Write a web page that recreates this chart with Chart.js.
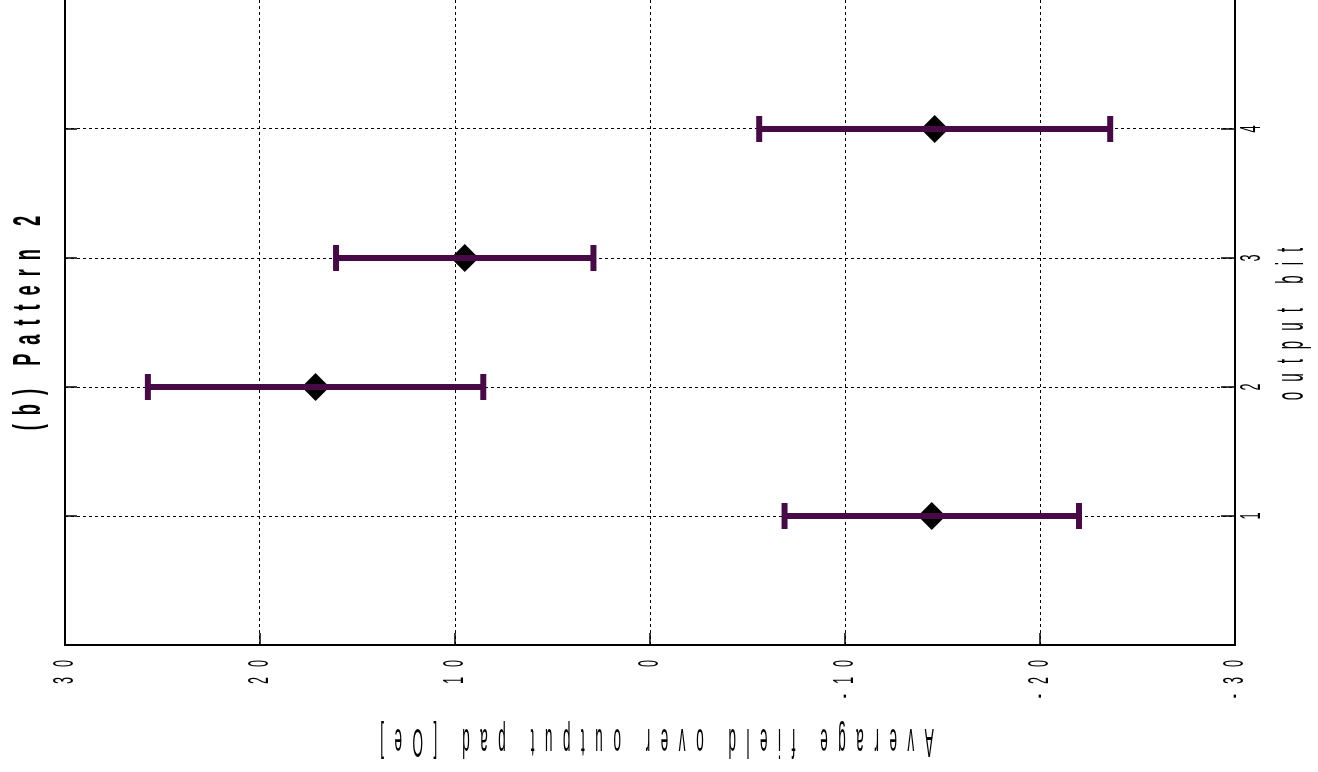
<!DOCTYPE html>
<html>
<head>
<meta charset="utf-8">
<title>(b) Pattern 2</title>
<script src="https://cdn.jsdelivr.net/npm/chart.js@4.4.1/dist/chart.umd.min.js"></script>
<style>
  html, body { margin: 0; padding: 0; background: #fff; }
  canvas { display: block; }
</style>
</head>
<body>
<canvas id="chart" width="1318" height="772"></canvas>
<script>
// data
const bits = [1, 2, 3, 4];
const meanField = [-14.45, 17.15, 9.5, -14.6];
const fieldError = [7.55, 8.6, 6.6, 9.0];
const xTicks = [30, 20, 10, 0, -10, -20, -30];
const yTicks = [1, 2, 3, 4];

const titleText = '(b) Pattern 2';
const xTitle = 'Average field over output pad [Oe]';
const yTitle = 'output bit';

const barColor = '#470a47';

// draw letter-spaced, squeezed text, rotated round its anchor
function drawSpaced(ctx, text, x, y, angle, font, sx, gap, align) {
    ctx.save();
    ctx.translate(x, y);
    ctx.rotate(angle);
    ctx.font = font;
    ctx.fillStyle = '#000';
    ctx.textBaseline = 'middle';
    ctx.textAlign = 'left';
    const chars = [...text];
    const widths = chars.map(c => ctx.measureText(c).width * sx);
    const total = widths.reduce((a, b) => a + b, 0) + gap * (chars.length - 1);
    let pos = align === 'end' ? -total : -total / 2;
    chars.forEach((c, i) => {
        ctx.save();
        ctx.translate(pos, 0);
        ctx.scale(sx, 1);
        ctx.fillText(c, 0, 0);
        ctx.restore();
        pos += widths[i] + gap;
    });
    ctx.restore();
}

// inward ticks, left border and all the text
const framePlugin = {
    id: 'frame',
    beforeDatasetsDraw(chart) {
        const { ctx, chartArea: a, scales: { x, y } } = chart;
        ctx.save();
        ctx.strokeStyle = '#000';
        ctx.lineWidth = 1.5;
        ctx.beginPath();
        xTicks.forEach(v => {
            const px = x.getPixelForValue(v);
            ctx.moveTo(px, a.bottom);
            ctx.lineTo(px, a.bottom - 12);
        });
        yTicks.forEach(v => {
            const py = y.getPixelForValue(v);
            ctx.moveTo(a.left, py);
            ctx.lineTo(a.left + 12, py);
            ctx.moveTo(a.right, py);
            ctx.lineTo(a.right - 14, py);
        });
        ctx.stroke();
        ctx.lineWidth = 2;
        ctx.beginPath();
        ctx.moveTo(a.left, a.top);
        ctx.lineTo(a.left, a.bottom);
        ctx.stroke();
        ctx.restore();
    },
    afterDraw(chart) {
        const { ctx, chartArea: a, scales: { x, y } } = chart;
        const tickFont = '30px "Liberation Sans", Arial, sans-serif';
        xTicks.forEach(v => {
            drawSpaced(ctx, String(v), x.getPixelForValue(v), a.bottom + 15, -Math.PI / 2, tickFont, 0.42, 10, 'end');
        });
        yTicks.forEach(v => {
            drawSpaced(ctx, String(v), a.right + 17, y.getPixelForValue(v), -Math.PI / 2, tickFont, 0.42, 10, 'center');
        });
        drawSpaced(ctx, xTitle, 657, 740, Math.PI, '40px "Liberation Sans", Arial, sans-serif', 0.34, 10.5, 'center');
        drawSpaced(ctx, yTitle, 1293, 324, -Math.PI / 2, '38px "Liberation Sans", Arial, sans-serif', 0.4, 10, 'center');
        drawSpaced(ctx, titleText, 30, 323, -Math.PI / 2, 'bold 38px "Liberation Sans", Arial, sans-serif', 0.48, 9, 'center');
    }
};

// one short line per bit for the error bar, caps drawn as point markers
const errorSets = bits.map((b, i) => ({
    type: 'line',
    data: [
        { x: meanField[i] + fieldError[i], y: b },
        { x: meanField[i] - fieldError[i], y: b }
    ],
    borderColor: barColor,
    borderWidth: 6,
    pointStyle: 'line',
    rotation: 90,
    pointRadius: 13,
    pointBorderWidth: 6,
    pointBorderColor: barColor,
    pointHoverRadius: 13,
    order: 0
}));

const ctx = document.getElementById('chart').getContext('2d');
new Chart(ctx, {
    type: 'scatter',
    data: {
        datasets: [
            ...errorSets,
            {
                data: bits.map((b, i) => ({ x: meanField[i], y: b })),
                pointStyle: 'rectRot',
                pointRadius: 14,
                pointHoverRadius: 14,
                backgroundColor: '#000',
                borderColor: '#000',
                borderWidth: 0,
                order: 1
            }
        ]
    },
    options: {
        responsive: false,
        animation: false,
        events: [],
        layout: { autoPadding: false, padding: { left: 65, right: 83, top: -4, bottom: 127 } },
        plugins: {
            legend: { display: false },
            tooltip: { enabled: false }
        },
        scales: {
            x: {
                type: 'linear',
                reverse: true,
                min: -30,
                max: 30,
                afterBuildTicks: scale => { scale.ticks = xTicks.map(v => ({ value: v })); },
                ticks: { display: false },
                grid: { color: '#000', lineWidth: 1, drawTicks: false },
                border: { display: true, color: '#000', width: 2, dash: [3, 3] }
            },
            y: {
                type: 'linear',
                position: 'right',
                min: 0,
                max: 5,
                afterBuildTicks: scale => { scale.ticks = yTicks.map(v => ({ value: v })); },
                ticks: { display: false },
                grid: { color: '#000', lineWidth: 1, drawTicks: false },
                border: { display: true, color: '#000', width: 2, dash: [3, 3] }
            }
        }
    },
    plugins: [framePlugin]
});
</script>
</body>
</html>
